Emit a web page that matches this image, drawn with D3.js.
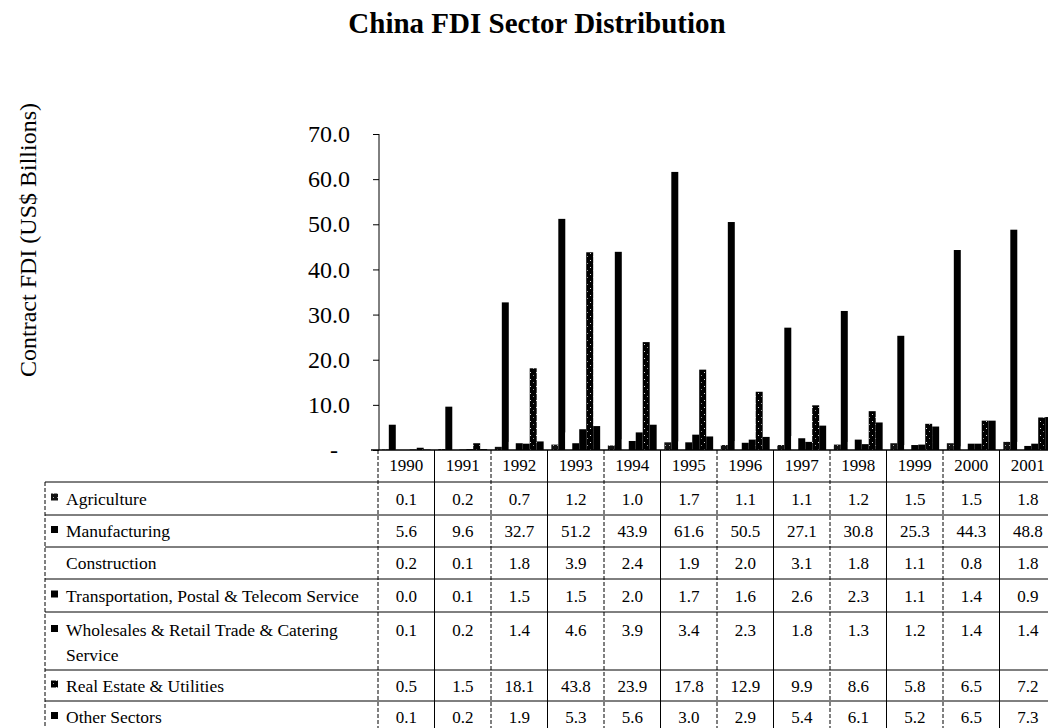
<!DOCTYPE html>
<html><head><meta charset="utf-8">
<script src="https://cdn.jsdelivr.net/npm/d3@7"></script>
<style>
html,body{margin:0;padding:0;background:#fff;}
svg{display:block;font-family:"Liberation Serif","Times New Roman",serif;}
</style></head>
<body>
<svg id="chart" width="1048" height="728"></svg>
<script>
const years = ["1990","1991","1992","1993","1994","1995","1996","1997","1998","1999","2000","2001"];
const sectors = ["Agriculture","Manufacturing","Construction","Transportation, Postal & Telecom Service","Wholesales & Retail Trade & Catering Service","Real Estate & Utilities","Other Sectors"];
const agriculture    = [0.1,0.2,0.7,1.2,1.0,1.7,1.1,1.1,1.2,1.5,1.5,1.8];
const manufacturing  = [5.6,9.6,32.7,51.2,43.9,61.6,50.5,27.1,30.8,25.3,44.3,48.8];
const construction   = [0.2,0.1,1.8,3.9,2.4,1.9,2.0,3.1,1.8,1.1,0.8,1.8];
const transportation = [0.0,0.1,1.5,1.5,2.0,1.7,1.6,2.6,2.3,1.1,1.4,0.9];
const wholesale      = [0.1,0.2,1.4,4.6,3.9,3.4,2.3,1.8,1.3,1.2,1.4,1.4];
const realEstate     = [0.5,1.5,18.1,43.8,23.9,17.8,12.9,9.9,8.6,5.8,6.5,7.2];
const otherSectors   = [0.1,0.2,1.9,5.3,5.6,3.0,2.9,5.4,6.1,5.2,6.5,7.3];
const yTicks = [0,10,20,30,40,50,60,70];

const series = [agriculture, manufacturing, construction, transportation, wholesale, realEstate, otherSectors];
const fills = ["url(#speck)","#000","#fff","#000","#000","url(#speck2)","#000"];
const swatch = [true,true,false,true,true,true,true];

const svg = d3.select("#chart");
const defs = svg.append("defs");
const p1 = defs.append("pattern").attr("id","speck").attr("width",4).attr("height",4).attr("patternUnits","userSpaceOnUse");
p1.append("rect").attr("width",4).attr("height",4).attr("fill","#111");
p1.append("rect").attr("x",1).attr("y",1).attr("width",1).attr("height",1).attr("fill","#aaa");
const p2 = defs.append("pattern").attr("id","speck2").attr("width",6).attr("height",7).attr("patternUnits","userSpaceOnUse");
p2.append("rect").attr("width",6).attr("height",7).attr("fill","#000");
p2.append("rect").attr("x",2).attr("y",1).attr("width",1).attr("height",1).attr("fill","#ddd");
p2.append("rect").attr("x",5).attr("y",4).attr("width",1).attr("height",1).attr("fill","#999");

const plotLeft = 378, colW = 56.5;
const x = d3.scaleBand().domain(years).range([plotLeft, plotLeft + colW*years.length]).paddingInner(0).paddingOuter(0);
const xs = d3.scaleBand().domain(d3.range(sectors.length)).range([0, x.bandwidth()]).paddingInner(0).paddingOuter(0.55);
const y = d3.scaleLinear().domain([0,70]).range([450,134]);

// title
svg.append("text").attr("x",537).attr("y",33).attr("text-anchor","middle")
  .attr("font-size",29).attr("font-weight","bold").text("China FDI Sector Distribution");

// y title
svg.append("text").attr("transform","translate(36,240) rotate(-90)").attr("text-anchor","middle")
  .attr("font-size",24).text("Contract FDI (US$ Billions)");

// y axis
const yAxis = d3.axisLeft(y).tickValues(yTicks).tickSize(6).tickPadding(23)
  .tickFormat(d => d === 0 ? "-" : d3.format(".1f")(d));
const ga = svg.append("g").attr("transform","translate(379,0)").call(yAxis);
ga.select(".domain").attr("stroke","#000").attr("d","M0,134V450");
ga.selectAll(".tick text").attr("font-size",24).attr("font-family","Liberation Serif, serif").attr("fill","#000")
  .attr("dx", d => d === 0 ? -12 : 0);
ga.selectAll(".tick line").attr("stroke","#000");

// bars
const g = svg.append("g");
series.forEach((vals, si) => {
  g.selectAll(null).data(vals).enter().append("rect")
    .attr("x", (d,i) => x(years[i]) + xs(si))
    .attr("width", xs.bandwidth())
    .attr("y", d => y(d))
    .attr("height", d => y(0) - y(d))
    .attr("fill", fills[si]);
});

// baseline
svg.append("line").attr("x1",371).attr("x2",1048).attr("y1",450).attr("y2",450).attr("stroke","#000").attr("stroke-width",1.5);

// table
const rowTops = [450,482,515,547,579,612,670,701,733];
const tableLeft = 45, tableRight = 1048;
const tg = svg.append("g");
rowTops.slice(1).forEach(yy => {
  tg.append("line").attr("x1",tableLeft).attr("x2",tableRight).attr("y1",yy).attr("y2",yy).attr("stroke","#000").attr("stroke-width",1);
});
tg.append("line").attr("x1",tableLeft).attr("x2",tableLeft).attr("y1",482).attr("y2",728).attr("stroke","#000").attr("stroke-dasharray","4,2");
years.forEach((yr,i) => {
  const xx = x(yr);
  tg.append("line").attr("x1",xx).attr("x2",xx).attr("y1",450).attr("y2",728)
    .attr("stroke","#000").attr("stroke-width",1).attr("stroke-dasharray", i%2===0 ? "4,2" : null);
});
years.forEach(yr => {
  tg.append("text").attr("x", x(yr)+x.bandwidth()/2).attr("y", 471).attr("text-anchor","middle")
    .attr("font-size",17).text(yr);
});
sectors.forEach((s, si) => {
  const top = rowTops[si+1], bot = rowTops[si+2];
  const twoLine = (bot - top) > 45;
  const ty = twoLine ? top + 24 : (top+bot)/2 + 6;
  if (swatch[si]) {
    tg.append("rect").attr("x",51).attr("y",ty-11).attr("width",7).attr("height",7).attr("fill", fills[si]);
  }
  if (twoLine) {
    ["Wholesales & Retail Trade & Catering","Service"].forEach((t,k) =>
      tg.append("text").attr("x",66).attr("y",ty + k*25).attr("font-size",17.5).text(t));
  } else {
    tg.append("text").attr("x",66).attr("y",ty).attr("font-size",17.5).text(s);
  }
  series[si].forEach((v,i) => {
    tg.append("text").attr("x", x(years[i])+x.bandwidth()/2).attr("y", ty).attr("text-anchor","middle")
      .attr("font-size",17).text(d3.format(".1f")(v));
  });
});
</script>
</body></html>
